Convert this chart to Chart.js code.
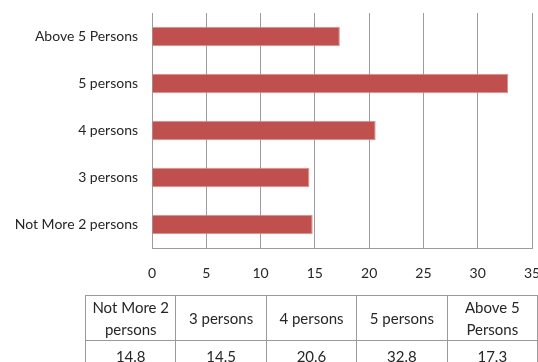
<!DOCTYPE html>
<html>
<head>
<meta charset="utf-8">
<script src="https://cdn.jsdelivr.net/npm/chart.js@4"></script>
<style>
  body { margin: 0; width: 538px; height: 362px; overflow: hidden; background: #fff; position: relative; }
  #wrap { position: absolute; left: 0; top: 0; width: 538px; height: 362px; }
  #tableau { position: absolute; left: 85px; top: 295px; border-collapse: collapse; table-layout: fixed;
    font-family: Lato, "Open Sans", sans-serif; font-size: 15px; color: #262626; }
  #tableau td { border: 1px solid #9a9a9a; text-align: center; width: 91px; padding: 0 4px; box-sizing: border-box; line-height: 22px; }
  #tableau tr.entete td { height: 44px; }
  #tableau tr.valeurs td { height: 30px; }
</style>
</head>
<body>
<div id="wrap"><canvas id="graphique-menages" width="538" height="362"></canvas></div>
<table id="tableau"></table>
<script>
// Données
const categories = ["Not More 2 persons", "3 persons", "4 persons", "5 persons", "Above 5 Persons"];
const valeurs = [14.8, 14.5, 20.6, 32.8, 17.3];
const ticksX = [0, 5, 10, 15, 20, 25, 30, 35];

// Tableau de données sous le graphique
const tableau = document.querySelector("#tableau");
const ligneEntete = document.createElement("tr");
ligneEntete.className = "entete";
const ligneValeurs = document.createElement("tr");
ligneValeurs.className = "valeurs";
for (let i = 0; i < categories.length; i++) {
  const th = document.createElement("td");
  th.textContent = categories[i];
  ligneEntete.appendChild(th);
  const td = document.createElement("td");
  td.textContent = valeurs[i].toFixed(1);
  ligneValeurs.appendChild(td);
}
tableau.appendChild(ligneEntete);
tableau.appendChild(ligneValeurs);

const data = {
  labels: categories,
  datasets: [
    {
      label: "Households",
      data: valeurs,
      backgroundColor: "#C0504D",
      borderColor: "#D98F8D",
      borderWidth: 1,
      barPercentage: 0.41,
      categoryPercentage: 1,
    }],
};

const config = {
  type: "bar",
  data: data,
  options: {
    indexAxis: "y",
    responsive: false,
    animation: false,
    layout: { padding: { left: 0, top: 13, right: 6, bottom: 74 } },
    plugins: { legend: { display: false }, tooltip: { enabled: false } },
    scales: {
      x: {
        min: 0,
        max: 35,
        afterBuildTicks: (scale) => { scale.ticks = ticksX.map(v => ({ value: v })); },
        afterFit: (scale) => {
          scale.height = 40;
          scale.paddingLeft = 0;
          scale.paddingRight = 0;
        },
        grid: { color: "#9c9c9c", lineWidth: 1, drawTicks: false },
        border: { color: "#9c9c9c", width: 1 },
        ticks: { padding: 17, color: "#262626", font: { family: "Lato", size: 14 } },
      },
      y: {
        reverse: true,
        afterFit: (scale) => {
          scale.width = 152;
          scale.paddingTop = 0;
          scale.paddingBottom = 0;
        },
        grid: { display: false },
        border: { color: "#9c9c9c", width: 1 },
        ticks: { padding: 6, color: "#262626", font: { family: "Lato", size: 14 } },
      },
    },
  },
};

new Chart(document.querySelector("#graphique-menages"), config);
</script>
</body>
</html>
